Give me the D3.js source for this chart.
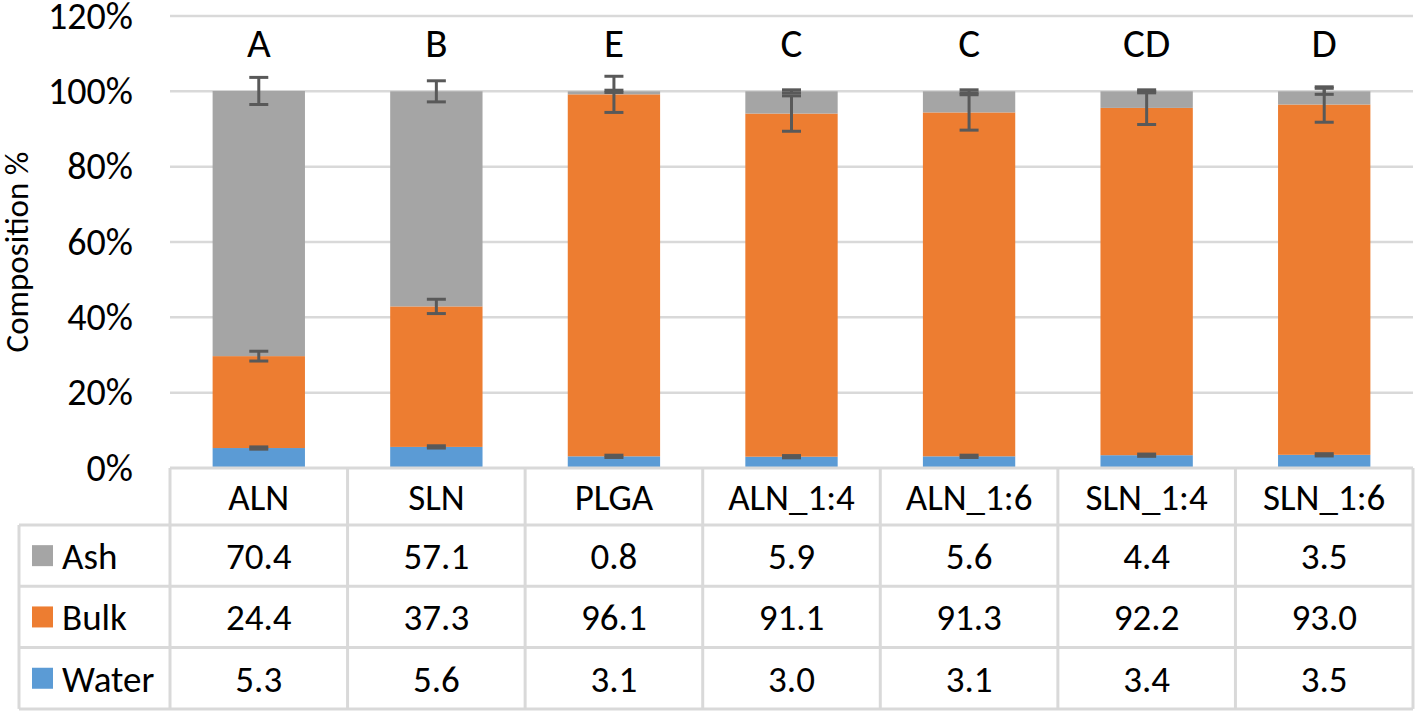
<!DOCTYPE html>
<html>
<head>
<meta charset="utf-8">
<script src="https://cdn.jsdelivr.net/npm/d3@7"></script>
<style>
  body { margin: 0; background: #fff; }
  svg text { font-family: Carlito, Calibri, Lato, sans-serif; fill: #000; }
</style>
</head>
<body>
<div id="chart"></div>
<script>
// Data
var categories = ["ALN", "SLN", "PLGA", "ALN_1:4", "ALN_1:6", "SLN_1:4", "SLN_1:6"];
var ash   = [70.4, 57.1, 0.8, 5.9, 5.6, 4.4, 3.5];
var bulk  = [24.4, 37.3, 96.1, 91.1, 91.3, 92.2, 93.0];
var water = [5.3, 5.6, 3.1, 3.0, 3.1, 3.4, 3.5];
var ashErr   = [3.6, 2.8, 0.3, 0.4, 0.4, 0.4, 0.8];
var bulkErr  = [1.3, 1.9, 4.8, 4.7, 4.7, 4.4, 4.7];
var waterErr = [0.3, 0.3, 0.3, 0.3, 0.3, 0.3, 0.3];
var letters = ["A", "B", "E", "C", "C", "CD", "D"];
var yTicks = [0, 20, 40, 60, 80, 100, 120];

var seriesNames = ["Water", "Bulk", "Ash"];        // stack order, bottom up
var tableRows = ["Ash", "Bulk", "Water"];          // table order, top down
var colors = { Ash: "#a5a5a5", Bulk: "#ed7d31", Water: "#5b9bd5" };
var values = { Ash: ash, Bulk: bulk, Water: water };
var errors = { Ash: ashErr, Bulk: bulkErr, Water: waterErr };

var svgWidth = 1418;
var svgHeight = 714;
var fontSize = "37px";

// plot area
var plot = { left: 170, right: 1413, top: 16, bottom: 468 };
var tableLeft = 19;
var headerH = 57;
var rowH = 61.3;

var svg = d3.select("#chart")
  .append("svg")
  .attr("width", svgWidth)
  .attr("height", svgHeight);

var data = categories.map(function(c, i) {
  return { cat: c, Water: water[i], Bulk: bulk[i], Ash: ash[i], i: i };
});

var xScale = d3.scaleBand()
  .domain(categories)
  .range([plot.left, plot.right])
  .paddingInner(0.48)
  .paddingOuter(0.24);

var yScale = d3.scaleLinear()
  .domain([0, 120])
  .range([plot.bottom, plot.top]);

// gridlines
svg.append("g")
  .selectAll("line")
  .data(yTicks.filter(function(d) { return d > 0; }))
  .enter().append("line")
  .attr("x1", plot.left)
  .attr("x2", plot.right)
  .attr("y1", function(d) { return yScale(d); })
  .attr("y2", function(d) { return yScale(d); })
  .attr("stroke", "#d9d9d9")
  .attr("stroke-width", 2.5);

// y axis labels
var leftAxis = d3.axisLeft(yScale)
  .tickValues(yTicks)
  .tickSize(0)
  .tickPadding(37)
  .tickFormat(function(d) { return d + "%"; });

var yAxisG = svg.append("g")
  .attr("transform", "translate(" + plot.left + ",0)")
  .call(leftAxis);
yAxisG.select(".domain").remove();
yAxisG.selectAll("text")
  .style("font-size", "38px")
  .attr("fill", "#000");

// axis title
svg.append("text")
  .attr("transform", "translate(28," + ((plot.top + plot.bottom) / 2 + 10) + ") rotate(-90)")
  .attr("text-anchor", "middle")
  .style("font-size", "33px")
  .text("Composition %");

// stacked bars
var stacked = d3.stack().keys(seriesNames)(data);

var layers = svg.append("g")
  .selectAll("g")
  .data(stacked)
  .enter().append("g")
  .attr("fill", function(d) { return colors[d.key]; });

layers.selectAll("rect")
  .data(function(d) { return d; })
  .enter().append("rect")
  .attr("x", function(d) { return xScale(d.data.cat); })
  .attr("width", xScale.bandwidth())
  .attr("y", function(d) { return yScale(d[1]); })
  .attr("height", function(d) { return yScale(d[0]) - yScale(d[1]); });

// error bars at the top of each segment
var capW = 19;
stacked.forEach(function(layer) {
  var g = svg.append("g")
    .attr("stroke", "#595959")
    .attr("stroke-width", 3);
  layer.forEach(function(d, i) {
    var cx = xScale(d.data.cat) + xScale.bandwidth() / 2;
    var err = errors[layer.key][i];
    var yHi = yScale(d[1] + err);
    var yLo = yScale(d[1] - err);
    g.append("line").attr("x1", cx).attr("x2", cx).attr("y1", yHi).attr("y2", yLo);
    g.append("line").attr("x1", cx - capW / 2).attr("x2", cx + capW / 2).attr("y1", yHi).attr("y2", yHi);
    g.append("line").attr("x1", cx - capW / 2).attr("x2", cx + capW / 2).attr("y1", yLo).attr("y2", yLo);
  });
});

// significance letters
svg.append("g")
  .selectAll("text")
  .data(letters)
  .enter().append("text")
  .attr("x", function(d, i) { return xScale(categories[i]) + xScale.bandwidth() / 2; })
  .attr("y", 57)
  .attr("text-anchor", "middle")
  .style("font-size", "41px")
  .text(function(d) { return d; });

// data table
var step = xScale.step();
var colEdges = categories.map(function(c) { return xScale(c) - (step - xScale.bandwidth()) / 2; });
colEdges.push(plot.right);

var table = svg.append("g");
var lineColor = "#d9d9d9";
var tableBottom = plot.bottom + headerH + rowH * tableRows.length;

// horizontal lines
table.append("line")
  .attr("x1", plot.left).attr("x2", plot.right)
  .attr("y1", plot.bottom).attr("y2", plot.bottom)
  .attr("stroke", lineColor).attr("stroke-width", 3);
tableRows.forEach(function(r, k) {
  var y = plot.bottom + headerH + rowH * k;
  table.append("line")
    .attr("x1", tableLeft).attr("x2", plot.right)
    .attr("y1", y).attr("y2", y)
    .attr("stroke", lineColor).attr("stroke-width", 3);
});
table.append("line")
  .attr("x1", tableLeft).attr("x2", plot.right)
  .attr("y1", tableBottom).attr("y2", tableBottom)
  .attr("stroke", lineColor).attr("stroke-width", 3);

// vertical lines
colEdges.forEach(function(x) {
  table.append("line")
    .attr("x1", x).attr("x2", x)
    .attr("y1", plot.bottom).attr("y2", tableBottom)
    .attr("stroke", lineColor).attr("stroke-width", 3);
});
table.append("line")
  .attr("x1", tableLeft).attr("x2", tableLeft)
  .attr("y1", plot.bottom + headerH).attr("y2", tableBottom)
  .attr("stroke", lineColor).attr("stroke-width", 3);

// header labels
table.selectAll("text.head")
  .data(categories)
  .enter().append("text")
  .attr("class", "head")
  .attr("x", function(d) { return xScale(d) + xScale.bandwidth() / 2; })
  .attr("y", plot.bottom + headerH / 2)
  .attr("dy", "0.36em")
  .attr("text-anchor", "middle")
  .style("font-size", fontSize)
  .text(function(d) { return d; });

// row labels, swatches and values
tableRows.forEach(function(r, k) {
  var yMid = plot.bottom + headerH + rowH * k + rowH / 2;
  table.append("rect")
    .attr("x", 32).attr("y", yMid - 10.5)
    .attr("width", 21).attr("height", 21)
    .attr("fill", colors[r]);
  table.append("text")
    .attr("x", 62).attr("y", yMid)
    .attr("dy", "0.36em")
    .style("font-size", fontSize)
    .text(r);
  table.selectAll("text.v" + r)
    .data(values[r])
    .enter().append("text")
    .attr("class", "v" + r)
    .attr("x", function(d, i) { return xScale(categories[i]) + xScale.bandwidth() / 2; })
    .attr("y", yMid)
    .attr("dy", "0.36em")
    .attr("text-anchor", "middle")
    .style("font-size", fontSize)
    .text(function(d) { return d.toFixed(1); });
});
</script>
</body>
</html>
